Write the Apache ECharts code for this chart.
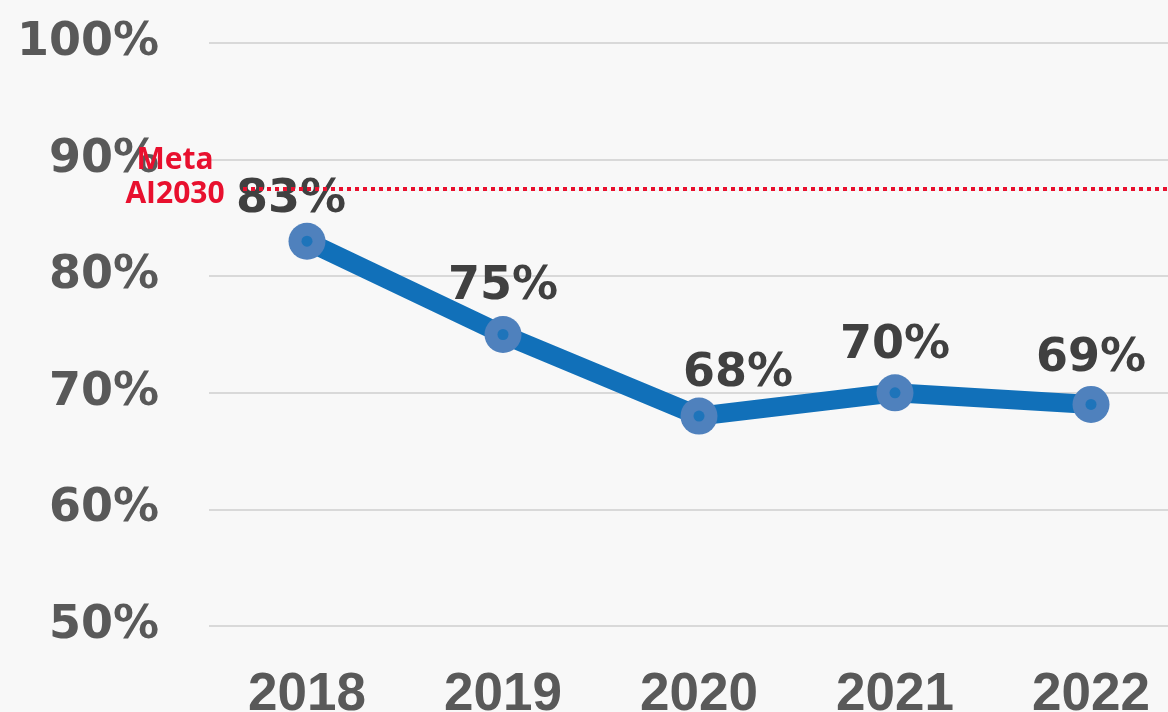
<!DOCTYPE html>
<html>
<head>
<meta charset="utf-8">
<script src="https://cdn.jsdelivr.net/npm/echarts@6/dist/echarts.min.js"></script>
<style>
html,body{margin:0;padding:0;background:#f8f8f8;}
#chart{width:1168px;height:712px;}
</style>
</head>
<body>
<div id="chart"></div>
<script>
const categories = ['2018', '2019', '2020', '2021', '2022'];
const values = [83, 75, 68, 70, 69];
const targetValue = 87.5;
const targetLines = ['Meta', 'AI2030'];
const yTicks = { min: 50, max: 100, interval: 10 };

// label nudges (style only)
const labelNudges = [[-16, 3], [0, -3], [39, 2], [0, -2], [0, -1]];

const chart = echarts.init(document.getElementById('chart'), null, { renderer: 'canvas' });

const lineData = values.map((v, i) => ({
  value: v,
  label: { offset: labelNudges[i] }
}));

chart.setOption({
  backgroundColor: '#f8f8f8',
  animation: false,
  grid: { left: 209, top: 43, bottom: 86, width: 980, containLabel: false, outerBoundsMode: 'none' },
  xAxis: {
    type: 'category',
    data: categories,
    boundaryGap: true,
    axisLine: { show: false },
    axisTick: { show: false },
    axisLabel: {
      margin: 43,
      color: '#595959',
      fontFamily: 'Liberation Sans',
      fontWeight: 'bold',
      fontSize: 53
    }
  },
  yAxis: {
    type: 'value',
    min: yTicks.min,
    max: yTicks.max,
    interval: yTicks.interval,
    axisLine: { show: false },
    axisTick: { show: false },
    splitLine: { lineStyle: { color: '#d9d9d9', width: 2 } },
    axisLabel: {
      margin: 50,
      color: '#595959',
      fontFamily: 'DejaVu Sans',
      fontWeight: 'bold',
      fontSize: 46,
      formatter: v => v + '%'
    }
  },
  series: [
    {
      type: 'line',
      data: lineData,
      symbol: 'circle',
      symbolSize: 37,
      itemStyle: { color: '#4f81bd' },
      lineStyle: { color: '#1170b9', width: 19 },
      label: {
        show: true,
        position: 'top',
        distance: 3,
        color: '#404040',
        fontFamily: 'DejaVu Sans',
        fontWeight: 'bold',
        fontSize: 46,
        formatter: p => p.value + '%'
      },
      markLine: {
        silent: true,
        symbol: ['none', 'none'],
        lineStyle: { color: '#e8102e', type: 'dotted', width: 4 },
        label: {
          show: true,
          position: 'start',
          distance: 68,
          align: 'center',
          verticalAlign: 'middle',
          color: '#e8102e',
          fontFamily: 'Open Sans',
          fontWeight: 'bold',
          fontSize: 30,
          lineHeight: 34,
          formatter: targetLines.map(t => '{a|' + t + '}').join('\n') + '\n{s|}',
          rich: {
            a: { color: '#e8102e', fontFamily: 'Open Sans', fontWeight: 'bold', fontSize: 30, lineHeight: 34, align: 'center' },
            s: { lineHeight: 22, fontSize: 10 }
          }
        },
        data: [[{ yAxis: targetValue, x: 243 }, { yAxis: targetValue, x: 1168 }]]
      },
      z: 2
    },
    {
      type: 'scatter',
      data: values,
      symbol: 'circle',
      symbolSize: 11,
      itemStyle: { color: '#1170b9' },
      silent: true,
      z: 4
    }
  ]
});
</script>
</body>
</html>
